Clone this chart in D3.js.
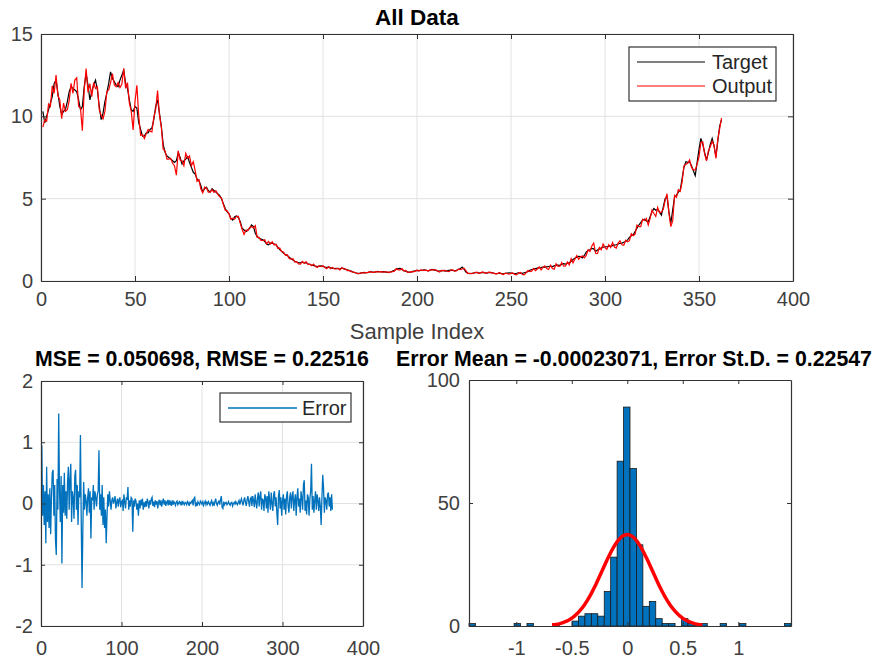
<!DOCTYPE html>
<html>
<head>
<meta charset="utf-8">
<script src="https://cdn.jsdelivr.net/npm/d3@7"></script>
<style>
  body { margin: 0; background: #fff; }
  text { font-family: "Liberation Sans", Arial, sans-serif; }
</style>
</head>
<body>
<div id="chart"></div>
<script>
//// data
// target series, sample index 1..362
var target = [
  10.3, 9.6, 10.0, 10.4, 10.8, 11.2, 12.0, 12.2, 11.4, 10.6,
  10.1, 10.3, 10.4, 10.9, 11.5, 11.8, 11.7, 11.6, 11.5, 11.0,
  10.4, 10.6, 11.8, 12.6, 11.9, 11.0, 11.5, 11.9, 12.2, 11.6,
  10.6, 9.8, 10.2, 10.9, 11.4, 12.0, 12.7, 12.3, 12.1, 11.9,
  11.8, 12.2, 12.5, 12.8, 12.0, 11.7, 11.0, 10.4, 10.3, 10.6,
  10.5, 9.6, 9.2, 8.8, 8.8, 9.0, 9.0, 9.2, 9.3, 9.8,
  10.6, 11.0, 10.2, 9.4, 8.3, 7.8, 7.6, 7.5, 7.4, 7.3,
  7.2, 7.3, 7.8, 7.5, 7.1, 7.3, 7.4, 7.55, 7.2, 6.9,
  6.6, 6.5, 6.2, 6.1, 5.8, 5.4, 5.6, 5.7, 5.5, 5.4,
  5.6, 5.5, 5.4, 5.3, 5.2, 5.0, 4.7, 4.4, 4.2, 4.1,
  3.8, 3.7, 3.9, 3.95, 3.85, 3.6, 3.2, 3.1, 3.0, 3.1,
  3.2, 3.4, 3.3, 2.9, 2.7, 2.6, 2.55, 2.5, 2.4, 2.25,
  2.2, 2.3, 2.3, 2.25, 2.2, 2.05, 1.9, 1.8, 1.7, 1.6,
  1.55, 1.45, 1.35, 1.27, 1.2, 1.15, 1.1, 1.12, 1.15, 1.1,
  1.12, 1.05, 1.0, 0.97, 0.95, 0.9, 0.88, 0.9, 0.92, 0.88,
  0.85, 0.82, 0.85, 0.8, 0.78, 0.76, 0.77, 0.75, 0.72, 0.8,
  0.75, 0.7, 0.68, 0.63, 0.6, 0.55, 0.5, 0.48, 0.47, 0.48,
  0.5, 0.52, 0.5, 0.53, 0.55, 0.56, 0.52, 0.55, 0.58, 0.56,
  0.55, 0.57, 0.56, 0.52, 0.53, 0.55, 0.6, 0.65, 0.72, 0.75,
  0.77, 0.7, 0.62, 0.6, 0.55, 0.53, 0.55, 0.6, 0.62, 0.65,
  0.63, 0.65, 0.66, 0.68, 0.64, 0.62, 0.66, 0.7, 0.68, 0.65,
  0.62, 0.6, 0.62, 0.64, 0.6, 0.62, 0.65, 0.66, 0.64, 0.62,
  0.65, 0.7, 0.75, 0.85, 0.72, 0.55, 0.48, 0.45, 0.46, 0.48,
  0.5, 0.52, 0.48, 0.5, 0.52, 0.5, 0.48, 0.5, 0.52, 0.5,
  0.47, 0.45, 0.46, 0.48, 0.45, 0.44, 0.46, 0.48, 0.5, 0.48,
  0.46, 0.45, 0.47, 0.5, 0.48, 0.46, 0.5, 0.52, 0.58, 0.65,
  0.7, 0.72, 0.75, 0.78, 0.8, 0.82, 0.85, 0.84, 0.86, 0.88,
  0.9, 0.88, 0.92, 0.95, 0.97, 0.95, 1.0, 1.05, 1.02, 1.07,
  1.1, 1.2, 1.3, 1.38, 1.45, 1.5, 1.48, 1.4, 1.55, 1.75,
  1.85, 1.9, 1.98, 1.95, 1.8, 1.88, 1.95, 2.0, 2.05, 2.08,
  2.08, 2.1, 2.12, 2.15, 2.18, 2.2, 2.25, 2.29, 2.3, 2.35,
  2.4, 2.5, 2.65, 2.75, 2.8, 3.0, 3.2, 3.4, 3.55, 3.7,
  3.75, 3.65, 3.6, 3.9, 4.2, 4.4, 4.3, 4.35, 4.2, 4.0,
  4.5, 5.0, 5.1, 4.2, 3.5, 4.3, 5.1, 5.2, 5.4, 5.5,
  6.2, 6.9, 7.24, 7.2, 7.24, 7.0, 6.7, 6.4, 7.2, 8.0,
  8.66, 8.3, 7.8, 7.35, 7.8, 8.3, 8.66, 8.2, 7.55, 8.5,
  9.4, 9.8
];

// error = target - output, same indices
var errors = [
  0.95, -0.2, 0.3, -0.35, 0.2, -0.65, 0.6, -0.3, 0.15, -0.4,
  0.25, -0.5, 0.1, 0.5, 0.55, -0.2, 0.3, -0.6, -0.84, 0.4,
  -0.1, 1.47, 0.2, -0.3, 0.45, -0.98, 0.3, -0.15, 0.5, -0.2,
  0.2, -0.25, 0.35, 0.6, -0.1, 0.4, 0.65, -0.3, 0.2, 0.1,
  -0.25, 0.45, 0.55, -0.1, 0.3, -0.35, 0.2, 0.1, 1.12, -0.3,
  -1.38, -0.4, 0.35, -0.1, 0.15, 0.05, -0.2, 0.1, 0.25, -0.15,
  0.2, -0.57, 0.1, 0.05, 0.3, -0.1, 0.2, 0.1, -0.05, 0.15,
  0.2, 0.87, -0.1, 0.15, -0.2, 0.3, -0.35, 0.1, -0.4, -0.1,
  -0.65, -0.2, 0.15, -0.05, 0.2, 0.05, -0.1, 0.05, 0.1, 0.0,
  0.05, 0.12, -0.08, 0.02, 0.08, -0.05, 0.06, 0.1, -0.06, 0.03,
  0.05, -0.12, 0.15, 0.02, -0.08, 0.1, 0.06, 0.27, -0.1, 0.05,
  -0.05, 0.1, 0.08, -0.46, 0.05, -0.05, 0.08, 0.04, -0.1, 0.0,
  -0.2, 0.05, -0.08, 0.06, -0.03, 0.08, -0.1, 0.02, -0.06, 0.04,
  -0.05, 0.08, 0.02, -0.08, 0.05, -0.02, 0.07, 0.1, -0.04, 0.03,
  -0.06, 0.05, -0.02, 0.04, -0.08, 0.02, 0.06, -0.03, 0.05, -0.05,
  0.03, 0.08, -0.02, 0.05, -0.04, 0.02, 0.04, -0.03, 0.06, -0.02,
  0.02, -0.04, 0.05, -0.02, 0.03, 0.01, -0.03, 0.02, 0.04, -0.02,
  0.01, 0.03, -0.01, 0.02, -0.03, 0.04, 0.0, -0.02, 0.02, 0.01,
  -0.02, 0.03, 0.01, -0.04, 0.02, 0.0, 0.03, 0.05, -0.03, 0.08,
  0.1, -0.05, 0.02, -0.04, 0.03, 0.0, -0.02, 0.04, 0.02, -0.01,
  0.03, -0.03, 0.01, 0.04, -0.02, 0.02, -0.01, 0.03, 0.0, -0.03,
  0.02, 0.05, -0.02, 0.01, -0.04, 0.03, 0.08, 0.0, -0.03, 0.02,
  0.04, -0.02, 0.06, 0.12, -0.06, -0.08, 0.03, -0.02, 0.01, 0.02,
  -0.02, 0.0, 0.03, -0.01, -0.03, 0.01, 0.02, -0.04, 0.0, 0.02,
  -0.01, 0.03, 0.0, -0.02, 0.02, 0.05, -0.02, 0.04, 0.08, 0.02,
  -0.03, 0.05, 0.1, 0.02, -0.04, 0.06, 0.12, 0.03, -0.05, 0.08,
  0.1, -0.04, 0.12, 0.05, -0.06, 0.15, 0.02, -0.08, 0.1, 0.18,
  -0.05, 0.12, 0.2, -0.1, 0.08, 0.05, -0.12, 0.15, 0.1, -0.08,
  0.12, -0.15, 0.2, 0.05, -0.1, 0.18, 0.0, -0.12, 0.15, 0.2,
  -0.05, 0.1, -0.15, -0.35, 0.12, 0.22, -0.08, 0.1, -0.2, 0.05,
  0.15, -0.1, 0.08, -0.18, 0.12, 0.2, -0.05, -0.15, 0.1, 0.18,
  -0.08, 0.12, 0.2, -0.12, 0.05, 0.15, -0.2, 0.1, 0.25, -0.05,
  0.08, -0.15, 0.2, 0.1, -0.1, 0.3, 0.38, -0.12, 0.05, -0.18,
  0.15, 0.1, -0.2, 0.08, 0.2, 0.65, -0.1, 0.12, -0.15, 0.05,
  0.2, -0.1, 0.15, 0.05, -0.12, 0.1, -0.05, -0.35, 0.1, 0.47,
  0.25, -0.15, 0.1, 0.05, -0.1, 0.15, 0.18, -0.05, 0.1, -0.12,
  0.15, -0.1
];

// histogram: 50 bins from errMin to errMax
var histCounts = [
  1, 0, 0, 0, 0, 0, 0, 1, 0, 1,
  0, 0, 0, 1, 0, 0, 2, 4, 5, 5,
  4, 14, 28, 67, 89, 64, 33, 8, 10, 3,
  1, 1, 0, 3, 1, 1, 1, 0, 0, 1,
  0, 0, 1, 0, 0, 0, 0, 0, 0, 1
];
var errMin = -1.426, errMax = 1.475;
var errMean = -0.00023071, errStd = 0.22547;

var topXTicks = [0, 50, 100, 150, 200, 250, 300, 350, 400];
var topYTicks = [0, 5, 10, 15];
var errXTicks = [0, 100, 200, 300, 400];
var errYTicks = [-2, -1, 0, 1, 2];
var histXTicks = [-1, -0.5, 0, 0.5, 1];
var histYTicks = [0, 50, 100];

var titleTop = "All Data";
var titleErr = "MSE = 0.050698, RMSE = 0.22516";
var titleHist = "Error Mean = -0.00023071, Error St.D. = 0.22547";

var blue = "#0072BD";
var axisColor = "#333333";
var labelColor = "#404040";
var gridColor = "#e2e2e2";

//// svg
var svg = d3.select("#chart")
  .append("svg")
    .attr("width", 895)
    .attr("height", 661);

var fmt = function(d) { return String(d); };

//// helpers
function drawGrid(x, y, xTicks, yTicks) {
  var left = x.range()[0], right = x.range()[1],
      top = y.range()[1], bottom = y.range()[0];
  var g = svg.append("g");
  xTicks.forEach(function(t) {
    g.append("line")
      .attr("x1", x(t)).attr("x2", x(t))
      .attr("y1", top).attr("y2", bottom)
      .attr("stroke", gridColor).attr("stroke-width", 1);
  });
  yTicks.forEach(function(t) {
    g.append("line")
      .attr("x1", left).attr("x2", right)
      .attr("y1", y(t)).attr("y2", y(t))
      .attr("stroke", gridColor).attr("stroke-width", 1);
  });
}

function drawBox(x, y, xTicks, yTicks, xPad, yPad, tl) {
  var left = x.range()[0], right = x.range()[1],
      top = y.range()[1], bottom = y.range()[0];

  var gb = svg.append("g")
    .attr("transform", "translate(0," + bottom + ")")
    .call(d3.axisBottom(x).tickValues(xTicks).tickSizeInner(-tl).tickSizeOuter(0)
      .tickPadding(xPad).tickFormat(fmt));
  var gt = svg.append("g")
    .attr("transform", "translate(0," + top + ")")
    .call(d3.axisTop(x).tickValues(xTicks).tickSizeInner(-tl).tickSizeOuter(0)
      .tickFormat(""));
  var gl = svg.append("g")
    .attr("transform", "translate(" + left + ",0)")
    .call(d3.axisLeft(y).tickValues(yTicks).tickSizeInner(-tl).tickSizeOuter(0)
      .tickPadding(yPad).tickFormat(fmt));
  var gr = svg.append("g")
    .attr("transform", "translate(" + right + ",0)")
    .call(d3.axisRight(y).tickValues(yTicks).tickSizeInner(-tl).tickSizeOuter(0)
      .tickFormat(""));

  [gb, gt, gl, gr].forEach(function(g) {
    g.attr("font-size", null).attr("font-family", null);
    g.select(".domain").attr("stroke", axisColor).attr("stroke-width", 1.2);
    g.selectAll(".tick line").attr("stroke", axisColor).attr("stroke-width", 1);
    g.selectAll(".tick text")
      .style("font-size", "20px")
      .attr("fill", labelColor);
  });
}

function title(txt, cx, baseline, size) {
  svg.append("text")
    .attr("x", cx).attr("y", baseline)
    .attr("text-anchor", "middle")
    .style("font-size", size + "px")
    .style("font-weight", "bold")
    .attr("fill", "#000")
    .text(txt);
}

function legend(lx, ly, w, h, items) {
  var g = svg.append("g").attr("transform", "translate(" + lx + "," + ly + ")");
  g.append("rect")
    .attr("width", w).attr("height", h)
    .attr("fill", "#fff")
    .attr("stroke", axisColor).attr("stroke-width", 1.2);
  items.forEach(function(it) {
    g.append("line")
      .attr("x1", it.x1).attr("x2", it.x2)
      .attr("y1", it.y).attr("y2", it.y)
      .attr("stroke", it.color).attr("stroke-width", it.width);
    g.append("text")
      .attr("x", it.tx).attr("y", it.y)
      .attr("dy", "0.35em")
      .style("font-size", "20px")
      .attr("fill", "#262626")
      .text(it.label);
  });
}

//// top panel: target vs output
var x1 = d3.scaleLinear().domain([0, 400]).range([41, 793]);
var y1 = d3.scaleLinear().domain([0, 15]).range([281, 34]);

drawGrid(x1, y1, topXTicks, topYTicks);

var lineTop = d3.line()
  .x(function(d, i) { return x1(i + 1); })
  .y(function(d) { return y1(d); });

var output = target.map(function(t, i) { return t - errors[i]; });

svg.append("path")
  .datum(target)
  .attr("fill", "none")
  .attr("stroke", "#000")
  .attr("stroke-width", 1.2)
  .attr("d", lineTop);

svg.append("path")
  .datum(output)
  .attr("fill", "none")
  .attr("stroke", "#ff0000")
  .attr("stroke-width", 1.2)
  .attr("d", lineTop);

drawBox(x1, y1, topXTicks, topYTicks, 11, 8, 5);
title(titleTop, 417, 25, 22.5);

svg.append("text")
  .attr("x", 417).attr("y", 339)
  .attr("text-anchor", "middle")
  .style("font-size", "22px")
  .attr("fill", labelColor)
  .text("Sample Index");

legend(629, 47, 147, 54, [
  {label: "Target", color: "#000", width: 1.2, x1: 8, x2: 76, y: 15, tx: 83},
  {label: "Output", color: "#ff0000", width: 1.2, x1: 8, x2: 76, y: 39, tx: 83}
]);

//// bottom left: error series
var x2 = d3.scaleLinear().domain([0, 400]).range([41, 363]);
var y2 = d3.scaleLinear().domain([-2, 2]).range([626, 381]);

drawGrid(x2, y2, errXTicks, errYTicks);

svg.append("path")
  .datum(errors)
  .attr("fill", "none")
  .attr("stroke", blue)
  .attr("stroke-width", 1.3)
  .attr("d", d3.line()
    .x(function(d, i) { return x2(i + 1); })
    .y(function(d) { return y2(d); }));

drawBox(x2, y2, errXTicks, errYTicks, 15, 8, 4);
title(titleErr, 202, 366, 21.3);

legend(220, 393, 131, 29, [
  {label: "Error", color: blue, width: 1.3, x1: 8, x2: 77, y: 15, tx: 82}
]);

//// bottom right: error histogram with normal fit
var x3 = d3.scaleLinear().domain([errMin, errMax]).range([469, 791]);
var y3 = d3.scaleLinear().domain([0, 100]).range([626, 380]);
var binW = (errMax - errMin) / histCounts.length;

svg.append("g")
  .selectAll("rect")
  .data(histCounts.map(function(c, k) { return {k: k, c: c}; })
    .filter(function(d) { return d.c > 0; }))
  .enter().append("rect")
    .attr("x", function(d) { return x3(errMin + d.k * binW); })
    .attr("width", function(d) { return x3(errMin + (d.k + 1) * binW) - x3(errMin + d.k * binW); })
    .attr("y", function(d) { return y3(d.c); })
    .attr("height", function(d) { return y3(0) - y3(d.c); })
    .attr("fill", blue)
    .attr("stroke", "#1a1a1a")
    .attr("stroke-width", 0.8);

// fitted normal curve, mean +/- 3 st.d.
var nTotal = errors.length;
var fitPts = d3.range(-3, 3.001, 0.05).map(function(z) {
  var xv = errMean + z * errStd;
  return [xv, nTotal * binW * Math.exp(-0.5 * z * z) / (errStd * Math.sqrt(2 * Math.PI))];
});

svg.append("path")
  .datum(fitPts)
  .attr("fill", "none")
  .attr("stroke", "#ff0000")
  .attr("stroke-width", 3.5)
  .attr("d", d3.line()
    .x(function(d) { return x3(d[0]); })
    .y(function(d) { return y3(d[1]); }));

drawBox(x3, y3, histXTicks, histYTicks, 15, 9, 4);
title(titleHist, 634, 366, 21.3);
</script>
</body>
</html>
